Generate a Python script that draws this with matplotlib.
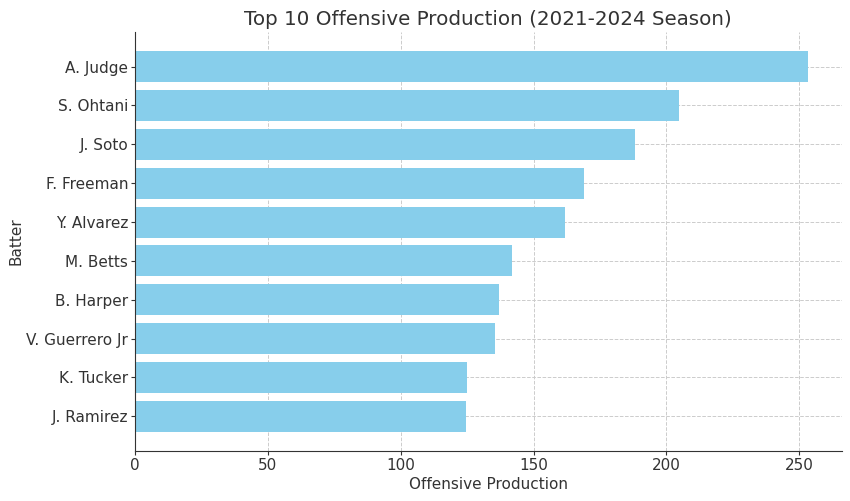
import matplotlib.pyplot as plt
import numpy as np

batters = ["A. Judge", "S. Ohtani", "J. Soto", "F. Freeman", "Y. Alvarez",
           "M. Betts", "B. Harper", "V. Guerrero Jr", "K. Tucker", "J. Ramirez"]
production = [253.3, 204.8, 188.2, 168.9, 161.9, 141.8, 137.0, 135.6, 124.8, 124.5]

fig, ax = plt.subplots(figsize=(8.5, 5.01), dpi=100)
ax.barh(batters[::-1], production[::-1], color="skyblue", height=0.8, zorder=2)

ax.set_title("Top 10 Offensive Production (2021-2024 Season)", fontsize=14.3, color="#333333", pad=5)
ax.set_xlabel("Offensive Production", fontsize=11, color="#333333", labelpad=3)
ax.set_ylabel("Batter", fontsize=11, color="#333333", labelpad=2)
ax.tick_params(labelsize=11, colors="#333333", length=3, pad=2)
ax.grid(True, linestyle="--", color="#cccccc", linewidth=0.7, zorder=0)
ax.set_axisbelow(True)
ax.spines["top"].set_visible(False)
ax.spines["right"].set_visible(False)
ax.spines["left"].set_color("#333333")
ax.spines["bottom"].set_color("#333333")

plt.subplots_adjust(left=0.159, right=0.99, top=0.936, bottom=0.1)
plt.savefig("out.png")
